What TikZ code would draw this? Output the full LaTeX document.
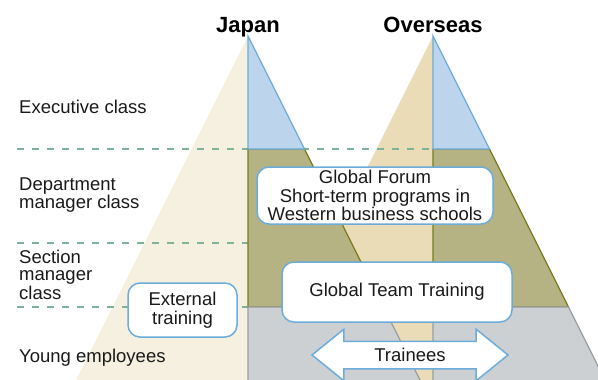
\documentclass[tikz,border=0pt]{standalone}
\usepackage{fontspec}
\setmainfont{Liberation Sans}
\usetikzlibrary{shapes.arrows}
\definecolor{creamfill}{HTML}{F5F0DF}
\definecolor{tanfill}{HTML}{E9DCB7}
\definecolor{bluefill}{HTML}{BDD5EC}
\definecolor{blueline}{HTML}{6CACDB}
\definecolor{olivefill}{HTML}{B5B284}
\definecolor{oliveline}{HTML}{7B7B1E}
\definecolor{grayfill}{HTML}{CCD0D3}
\definecolor{grayline}{HTML}{9A9EA0}
\definecolor{dashgreen}{HTML}{7DB39B}
\definecolor{textblack}{HTML}{1A1A1A}
\tikzset{
  labeltext/.style={font=\fontsize{18.5}{17}\selectfont, text=textblack, inner sep=0pt, align=left},
  headtext/.style={font=\fontsize{22}{22}\selectfont\bfseries, text=black, inner sep=0pt},
  roundbox/.style={draw=blueline, line width=1.5pt, fill=white, rounded corners=12pt, align=center,
    inner sep=0pt, font=\fontsize{18.5}{18.5}\selectfont, text=textblack},
  levelline/.style={dashgreen, line width=1.3pt, dash pattern=on 7.3pt off 7.7pt},
  topband/.style={fill=bluefill, draw=blueline, line width=1.3pt},
  midband/.style={fill=olivefill, draw=oliveline, line width=1.3pt},
  lowband/.style={fill=grayfill, draw=grayline, line width=1.3pt},
}
\begin{document}
\begin{tikzpicture}[x=1pt, y=-1pt]
\useasboundingbox (0,0) rectangle (598,380);
\clip (0,0) rectangle (598,380);
% left halves of the two pyramids
\fill[creamfill] (248,36) -- (76,380) -- (248,380) -- cycle;
\fill[tanfill] (433,36) -- (261,380) -- (433,380) -- cycle;
% class borders
\draw[levelline] (17,149) -- (433,149);
\draw[levelline] (17,243) -- (248,243);
\draw[levelline] (17,307) -- (248,307);
% right half, overseas
\draw[midband] (433,149) -- (489.5,149) -- (568.5,307) -- (433,307) -- cycle;
\draw[lowband] (433,307) -- (568.5,307) -- (607.5,385) -- (433,385) -- cycle;
\draw[topband] (433,36) -- (489.5,149) -- (433,149) -- cycle;
% right half, Japan
\draw[midband] (248,149) -- (304.5,149) -- (383.5,307) -- (248,307) -- cycle;
\draw[lowband] (248,307) -- (383.5,307) -- (422.5,385) -- (248,385) -- cycle;
\draw[topband] (248,36) -- (304.5,149) -- (248,149) -- cycle;
% headings
\node[headtext, anchor=base] (japan) at (248,32) {Japan};
\node[headtext, anchor=base] (overseas) at (433,32) {Overseas};
% classes
\node[labeltext, anchor=base west] (exec) at (19,113) {Executive class};
\node[labeltext, anchor=west] (dept) at (19,195) {Department\\manager class};
\node[labeltext, anchor=west] (section) at (19,275) {Section\\manager\\class};
\node[labeltext, anchor=base west] (young) at (19,362) {Young employees};
% programs
\node[roundbox, minimum width=236pt, minimum height=57pt] (forum) at (375,195.5) {Global Forum\\Short-term programs in\\Western business schools};
\node[roundbox, minimum width=230pt, minimum height=60pt] (team) at (397,292) {Global Team Training};
\node[roundbox, minimum width=109pt, minimum height=54pt] (external) at (182.5,310) {External\\training};
\node[double arrow, draw=blueline, fill=white, line width=1.5pt, double arrow head extend=12pt,
  double arrow tip angle=78, minimum height=196pt, minimum width=50pt, text height=13pt, text depth=0pt,
  inner xsep=0pt, inner ysep=6.5pt, font=\fontsize{18.5}{18.5}\selectfont, text=textblack] (trainees) at (410,355) {Trainees};
\end{tikzpicture}
\end{document}
